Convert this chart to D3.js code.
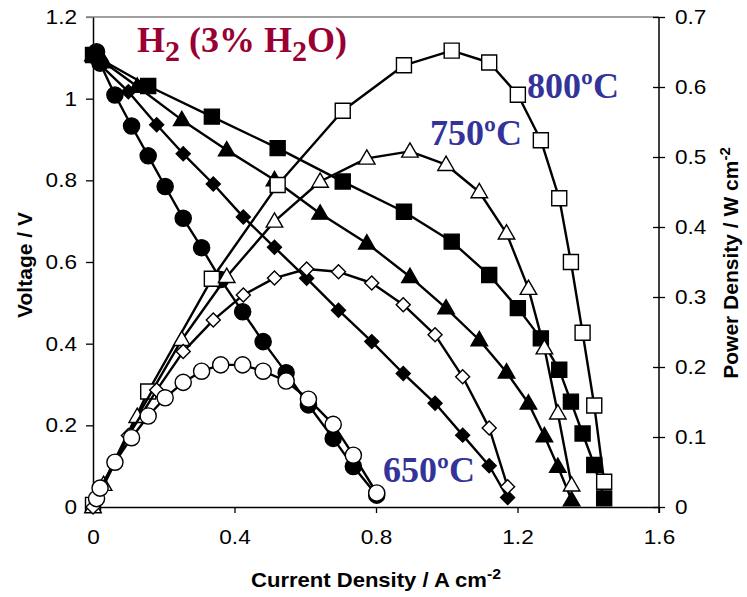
<!DOCTYPE html>
<html>
<head>
<meta charset="utf-8">
<script src="https://cdn.jsdelivr.net/npm/d3@7/dist/d3.min.js"></script>
<style>
  body { margin: 0; background: #fff; }
  svg { display: block; }
</style>
</head>
<body>
<svg id="chart" width="747" height="597"></svg>
<script>
// Axis ticks and labels
const currentTicks = [0, 0.4, 0.8, 1.2, 1.6];
const currentTickLabels = ["0", "0.4", "0.8", "1.2", "1.6"];
const voltageTicks = [0, 0.2, 0.4, 0.6, 0.8, 1.0, 1.2];
const voltageTickLabels = ["0", "0.2", "0.4", "0.6", "0.8", "1", "1.2"];
const powerTicks = [0, 0.1, 0.2, 0.3, 0.4, 0.5, 0.6, 0.7];
const powerTickLabels = ["0", "0.1", "0.2", "0.3", "0.4", "0.5", "0.6", "0.7"];

// 800 ºC (squares)
const current800 = [0, 0.156, 0.336, 0.522, 0.706, 0.879, 1.014, 1.120, 1.201, 1.266, 1.318, 1.351, 1.384, 1.417, 1.445];
const voltage800 = [1.107, 1.031, 0.956, 0.879, 0.797, 0.723, 0.650, 0.568, 0.487, 0.413, 0.336, 0.258, 0.180, 0.103, 0.021];
const power800   = [0.003, 0.165, 0.326, 0.460, 0.566, 0.631, 0.652, 0.635, 0.589, 0.524, 0.441, 0.350, 0.249, 0.145, 0.036];

// 750 ºC (triangles)
const current750 = [0, 0.03, 0.125, 0.251, 0.378, 0.513, 0.642, 0.774, 0.896, 0.998, 1.092, 1.169, 1.231, 1.276, 1.314, 1.353];
const voltage750 = [1.107, 1.09, 1.03, 0.948, 0.874, 0.801, 0.719, 0.646, 0.564, 0.487, 0.409, 0.330, 0.254, 0.174, 0.099, 0.017];
const power750   = [0.0, 0.032, 0.129, 0.239, 0.329, 0.408, 0.465, 0.498, 0.508, 0.489, 0.450, 0.391, 0.312, 0.227, 0.134, 0.031];

// 700 ºC (diamonds)
const current700 = [0, 0.1, 0.18, 0.255, 0.340, 0.425, 0.513, 0.604, 0.694, 0.788, 0.877, 0.967, 1.045, 1.120, 1.172];
const voltage700 = [1.10, 1.017, 0.936, 0.865, 0.791, 0.710, 0.636, 0.560, 0.482, 0.405, 0.327, 0.254, 0.176, 0.101, 0.023];
const power700   = [0, 0.102, 0.167, 0.222, 0.267, 0.303, 0.327, 0.340, 0.336, 0.320, 0.289, 0.246, 0.186, 0.113, 0.029];

// 650 ºC (circles)
const current650 = [0.01, 0.02, 0.062, 0.109, 0.156, 0.204, 0.255, 0.307, 0.361, 0.423, 0.481, 0.546, 0.609, 0.679, 0.736, 0.802];
const voltage650 = [1.115, 1.087, 1.009, 0.933, 0.860, 0.785, 0.707, 0.635, 0.557, 0.478, 0.405, 0.329, 0.250, 0.168, 0.099, 0.029];
const power650   = [0.012, 0.027, 0.064, 0.099, 0.130, 0.156, 0.178, 0.194, 0.203, 0.203, 0.194, 0.180, 0.154, 0.118, 0.074, 0.020];

const svg = d3.select("#chart");
const plotLeft = 93, plotRight = 659, plotTop = 17, plotBottom = 507;

const x = d3.scaleLinear().domain([0, 1.6]).range([plotLeft, plotRight]);
const yV = d3.scaleLinear().domain([0, 1.2]).range([plotBottom, plotTop]);
const yP = d3.scaleLinear().domain([0, 0.7]).range([plotBottom, plotTop]);

const sansFont = "'Liberation Sans', Arial, sans-serif";
const wide = 1.13; // horizontal stretch of the sans-serif lettering

// top frame line
svg.append("line")
  .attr("x1", plotLeft - 7).attr("x2", plotRight).attr("y1", plotTop).attr("y2", plotTop)
  .attr("stroke", "#808080").attr("stroke-width", 1.6);

// left (voltage) axis
const gL = svg.append("g").attr("transform", `translate(${plotLeft},0)`)
  .call(d3.axisLeft(yV).tickValues(voltageTicks).tickSize(7).tickSizeOuter(0).tickPadding(9)
    .tickFormat((d, i) => voltageTickLabels[i]));

// right (power) axis, ticks cross the line
const gR = svg.append("g").attr("transform", `translate(${plotRight},0)`)
  .call(d3.axisRight(yP).tickValues(powerTicks).tickSize(6).tickSizeOuter(0).tickPadding(10)
    .tickFormat((d, i) => powerTickLabels[i]));
gR.selectAll(".tick line").attr("x1", -6);
gR.select(".domain").attr("d", `M0,${plotTop}V${plotBottom + 6}`);

// bottom (current) axis
const gB = svg.append("g").attr("transform", `translate(0,${plotBottom})`)
  .call(d3.axisBottom(x).tickValues(currentTicks).tickSize(6).tickSizeOuter(0).tickPadding(17)
    .tickFormat((d, i) => currentTickLabels[i]));

[gL, gR, gB].forEach(g => {
  g.selectAll(".domain").attr("stroke", "#000").attr("stroke-width", 1.5);
  g.selectAll(".tick line").attr("stroke", "#000").attr("stroke-width", 1.3);
  g.selectAll("text")
    .attr("font-family", sansFont).attr("font-size", 20).attr("fill", "#000")
    .each(function () {
      const t = d3.select(this);
      const x0 = +t.attr("x") || 0;
      t.attr("x", x0 / wide).attr("transform", `scale(${wide},1)`);
    });
});
gL.select(".tick:last-of-type line").attr("stroke", "#808080");

// series definitions
const series = [
  { I: current800, V: voltage800, P: power800, shape: "square" },
  { I: current750, V: voltage750, P: power750, shape: "triangle" },
  { I: current700, V: voltage700, P: power700, shape: "diamond" },
  { I: current650, V: voltage650, P: power650, shape: "circle" }
];

const symbols = {
  square: d3.symbol().type(d3.symbolSquare).size(225),
  triangle: d3.symbol().type(d3.symbolTriangle).size(118),
  diamond: d3.symbol().type(d3.symbolSquare).size(98),
  circle: d3.symbol().type(d3.symbolCircle).size(205)
};

function drawSeries(s, yScale, values, filled) {
  const pts = s.I.map((c, i) => [x(c), yScale(values[i])]);
  const g = svg.append("g");
  g.append("path")
    .attr("d", d3.line()(pts))
    .attr("fill", "none").attr("stroke", "#000").attr("stroke-width", 2.4)
    .attr("stroke-linejoin", "round");
  g.selectAll("path.m").data(pts).join("path")
    .attr("class", "m")
    .attr("d", symbols[s.shape]())
    .attr("transform", d => {
      let t = `translate(${d[0]},${d[1]})`;
      if (s.shape === "diamond") t += " rotate(45)";
      if (s.shape === "triangle") t += " translate(0,1)";
      return t;
    })
    .attr("fill", filled ? "#000" : "#fff")
    .attr("stroke", "#000").attr("stroke-width", 1.4);
}

series.forEach(s => drawSeries(s, yV, s.V, true));
series.forEach(s => drawSeries(s, yP, s.P, false));

// axis titles
const xt = svg.append("text")
  .attr("transform", `translate(376,587) scale(1.05,1)`)
  .attr("text-anchor", "middle")
  .attr("font-family", sansFont).attr("font-weight", "bold").attr("font-size", 21);
xt.append("tspan").text("Current Density / A cm");
xt.append("tspan").attr("dy", -8).attr("font-size", 15).text("-2");

svg.append("text")
  .attr("transform", "translate(32,265) rotate(-90)")
  .attr("text-anchor", "middle")
  .attr("font-family", sansFont).attr("font-weight", "bold").attr("font-size", 21)
  .text("Voltage / V");

const pt = svg.append("text")
  .attr("transform", "translate(738,263) rotate(-90)")
  .attr("text-anchor", "middle")
  .attr("font-family", sansFont).attr("font-weight", "bold").attr("font-size", 21);
pt.append("tspan").text("Power Density / W cm");
pt.append("tspan").attr("dy", -8).attr("font-size", 15).text("-2");

// heading and temperature labels
const serif = "'Liberation Serif', 'Times New Roman', serif";
const h = svg.append("text").attr("x", 137).attr("y", 52)
  .attr("font-family", serif).attr("font-weight", "bold").attr("font-size", 36)
  .attr("fill", "#990033");
h.append("tspan").text("H");
h.append("tspan").attr("dy", 9).attr("font-size", 30).text("2");
h.append("tspan").attr("dy", -9).text(" (3% H");
h.append("tspan").attr("dy", 9).attr("font-size", 30).text("2");
h.append("tspan").attr("dy", -9).text("O)");

const tempLabels = [
  { text: "800ºC", x: 527, y: 98 },
  { text: "750ºC", x: 430, y: 145 },
  { text: "650ºC", x: 383, y: 482 }
];
svg.selectAll("text.temp").data(tempLabels).join("text")
  .attr("class", "temp")
  .attr("x", d => d.x).attr("y", d => d.y)
  .attr("font-family", serif).attr("font-weight", "bold").attr("font-size", 36)
  .attr("fill", "#333399")
  .text(d => d.text);
</script>
</body>
</html>
